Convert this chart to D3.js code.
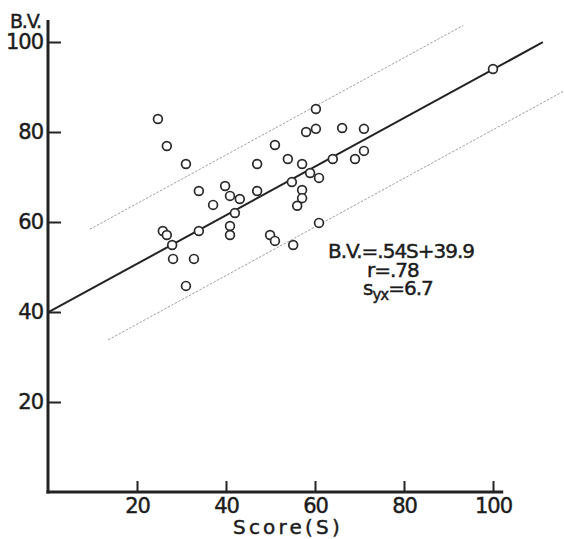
<!DOCTYPE html>
<html>
<head>
<meta charset="utf-8">
<script src="https://cdn.jsdelivr.net/npm/d3@7"></script>
<style>
  html, body { margin: 0; padding: 0; background: #fff; }
  svg { display: block; }
  text { font-family: "DejaVu Sans", sans-serif; fill: #1c1c1c; stroke: #1c1c1c; stroke-width: 0.45px; }
</style>
</head>
<body>
<svg id="chart" width="564" height="539"></svg>
<script>
// Score (S) and B.V. for each subject
const scores = [24.7, 26.7, 31.0, 33.9, 39.8, 40.9, 43.1, 37.1, 42.0, 47.0,
                47.0, 25.8, 26.7, 33.9, 40.9, 40.9, 27.9, 28.1, 32.8, 31.0,
                60.2, 58.0, 60.2, 66.1, 71.0, 51.0, 71.0, 53.9, 57.1, 64.0,
                69.0, 58.9, 60.9, 54.8, 57.1, 57.1, 56.0, 60.9, 49.9, 51.0,
                55.1, 100.0];
const bvValues = [82.9, 76.9, 72.9, 66.9, 68.0, 65.8, 65.1, 63.8, 62.0, 72.9,
                  66.9, 58.0, 57.1, 58.0, 59.1, 57.1, 54.9, 51.8, 51.8, 45.8,
                  85.1, 80.0, 80.7, 80.9, 80.7, 77.1, 75.8, 74.0, 72.9, 74.0,
                  74.0, 70.9, 69.8, 68.9, 67.1, 65.3, 63.6, 59.8, 57.1, 55.8,
                  54.9, 94.0];

const xTicks = [20, 40, 60, 80, 100];
const yTicks = [20, 40, 60, 80, 100];

// regression B.V. = .54 S + 39.9, r = .78, s_yx = 6.7
const slope = 0.54;
const intercept = 39.9;
const rValue = ".78";
const syx = 6.7;

// extents of the drawn lines, in score units
const fitRange = [0, 111.2];
const upperRange = [9.4, 93.3];
const lowerRange = [13.5, 116];

const svg = d3.select("#chart");
const x = d3.scaleLinear().domain([0, 100]).range([48, 493]);
const y = d3.scaleLinear().domain([0, 100]).range([492, 42]);

const predict = s => slope * s + intercept;
const line = d3.line().x(d => x(d[0])).y(d => y(d[1]));

// band at +/- 2 s_yx around the fitted line
const band = (range, off) => range.map(s => [s, predict(s) + off]);
svg.append("path")
  .attr("d", line(band(upperRange, 2 * syx)))
  .attr("fill", "none").attr("stroke", "#a0a0a0")
  .attr("stroke-width", 1).attr("stroke-dasharray", "2.5 1.5");
svg.append("path")
  .attr("d", line(band(lowerRange, -2 * syx)))
  .attr("fill", "none").attr("stroke", "#a0a0a0")
  .attr("stroke-width", 1).attr("stroke-dasharray", "2.5 1.5");

// fitted line
svg.append("path")
  .attr("d", line(fitRange.map(s => [s, predict(s)])))
  .attr("fill", "none").attr("stroke", "#222").attr("stroke-width", 2);

// points
svg.append("g").selectAll("circle")
  .data(scores.map((s, i) => [s, bvValues[i]]))
  .join("circle")
  .attr("cx", d => x(d[0])).attr("cy", d => y(d[1]))
  .attr("r", 4.4)
  .attr("fill", "#fff").attr("stroke", "#2a2a2a").attr("stroke-width", 1.7);

// axes
const yAxis = d3.axisLeft(y).tickValues(yTicks).tickSize(-13).tickPadding(5)
  .tickFormat(d3.format("d"));
const gy = svg.append("g").attr("transform", `translate(${x(0)},0)`).call(yAxis);
gy.select(".domain").remove();
gy.selectAll(".tick line").attr("stroke", "#222").attr("stroke-width", 2);
gy.selectAll(".tick text").attr("font-size", 21).attr("fill", "#1c1c1c")
  .attr("font-family", "DejaVu Sans, sans-serif").attr("letter-spacing", -1);

const xAxis = d3.axisBottom(x).tickValues(xTicks).tickSize(-11).tickPadding(5)
  .tickFormat(d3.format("d"));
const gx = svg.append("g").attr("transform", `translate(0,${y(0)})`).call(xAxis);
gx.select(".domain").remove();
gx.selectAll(".tick line").attr("stroke", "#222").attr("stroke-width", 2);
gx.selectAll(".tick text").attr("font-size", 21).attr("fill", "#1c1c1c")
  .attr("font-family", "DejaVu Sans, sans-serif").attr("letter-spacing", -1)
  .attr("dy", "0.75em");

// axis lines
svg.append("line")
  .attr("x1", x(0)).attr("x2", x(0)).attr("y1", y(104.9)).attr("y2", y(0) + 1.5)
  .attr("stroke", "#222").attr("stroke-width", 3);
svg.append("line")
  .attr("x1", x(0) - 1.5).attr("x2", x(102.3)).attr("y1", y(0)).attr("y2", y(0))
  .attr("stroke", "#222").attr("stroke-width", 3);

// axis titles
svg.append("text").attr("x", 10).attr("y", 28)
  .attr("font-size", 19).attr("letter-spacing", -1.2).text("B.V.");
svg.append("text").attr("x", 233).attr("y", 534)
  .attr("font-size", 20).attr("letter-spacing", 3.2).text("Score(S)");

// regression statistics
const ann = svg.append("g");
ann.append("text").attr("x", 328).attr("y", 258)
  .attr("font-size", 20).attr("letter-spacing", -1)
  .text(`B.V.=.${Math.round(slope * 100)}S+${intercept}`);
ann.append("text").attr("x", 367).attr("y", 277)
  .attr("font-size", 20).attr("letter-spacing", -1)
  .text(`r=${rValue}`);
const s3 = ann.append("text").attr("x", 363).attr("y", 295)
  .attr("font-size", 20).attr("letter-spacing", -1);
s3.append("tspan").text("s");
s3.append("tspan").attr("font-size", 15).attr("dy", 5).text("yx");
s3.append("tspan").attr("dy", -5).text(`=${syx}`);
</script>
</body>
</html>
